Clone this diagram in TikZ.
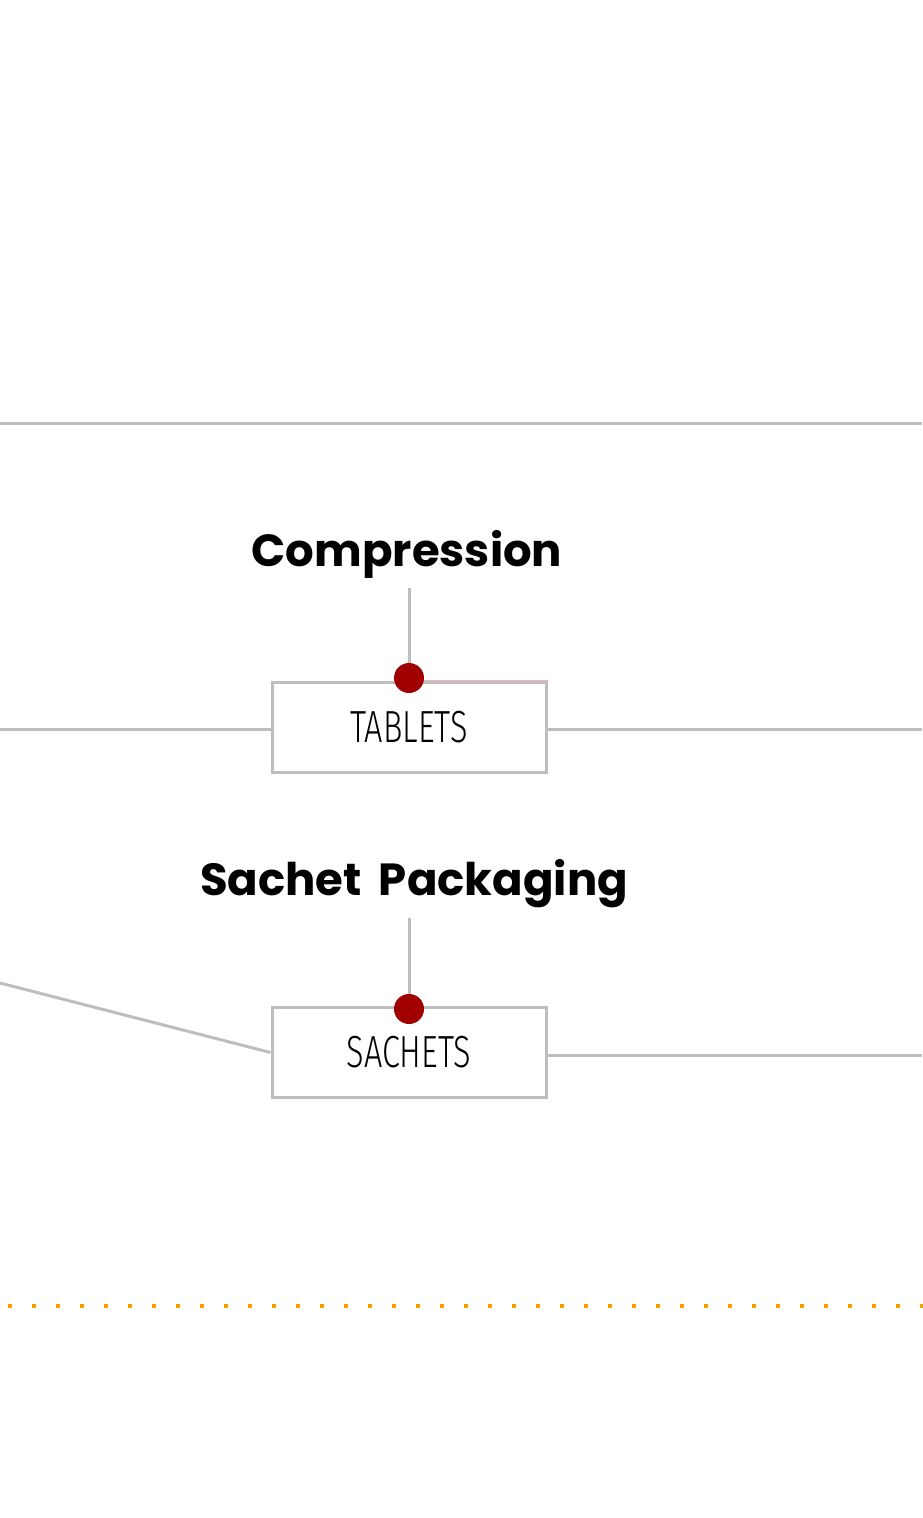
\documentclass[tikz,border=0pt]{standalone}
\usepackage{fontspec}
\setmainfont{Poppins}[WordSpace=1.8]
\newfontfamily\condfont[FakeStretch=0.72]{Fira Sans Light}
\definecolor{lgray}{HTML}{BEBEBE}
\definecolor{dred}{HTML}{A00000}
\definecolor{dorange}{HTML}{F5A000}
\definecolor{pinkline}{HTML}{F2B4B4}
\tikzset{
  conn/.style={draw=lgray, line width=3pt},
  boxnode/.style={draw=lgray, line width=3pt, minimum width=274pt, minimum height=90pt, inner sep=0pt, font=\condfont\fontsize{45}{45}\selectfont},
  reddot/.style={circle, fill=dred, minimum size=30pt, inner sep=0pt},
  title/.style={font=\bfseries\fontsize{45}{45}\selectfont, anchor=base, inner sep=0pt},
}
\begin{document}
\begin{tikzpicture}[x=1pt,y=-1pt]
\useasboundingbox (0,0) rectangle (922,1518);
% top rule
\coordinate (tl) at (0,423);
\coordinate (tr) at (922,423);
\draw[conn] (tl) -- (tr);
% titles
\node[title] (comp) at (407,566) {Compression};
\node[title] (sach) at (414,895) {Sachet Packaging};
% boxes
\node[boxnode] (tab) at (409,727) {TABLETS};
\node[boxnode] (sbox) at (409,1052.5) {SACHETS};
% connectors
\coordinate (tabL) at (0,729);
\coordinate (tabR) at (922,729);
\coordinate (sL) at (0,983);
\coordinate (sR) at (922,1055);
\draw[conn] (tabL) -- (tabL -| tab.west);
\draw[conn] (tabR) -- (tabR -| tab.east);
\draw[conn] (sL) -- (sbox.west);
\draw[conn] (sR) -- (sR -| sbox.east);
% vertical stems
\coordinate (c1) at (409,588);
\coordinate (c2) at (409,918);
\node[reddot] (d1) at (409,678) {};
\node[reddot] (d2) at (409,1009) {};
\draw[conn] (c1) -- (d1.north);
\draw[conn] (c2) -- (d2.north);
\draw[pinkline, line width=1pt] (d1.east |- 0,680.5) -- (tab.north east);
% dotted rule
\coordinate (dl) at (8,1306);
\coordinate (dr) at (924,1306);
\draw[dorange, line width=4pt, dash pattern=on 4pt off 20pt] (dl) -- (dr);
\end{tikzpicture}
\end{document}
